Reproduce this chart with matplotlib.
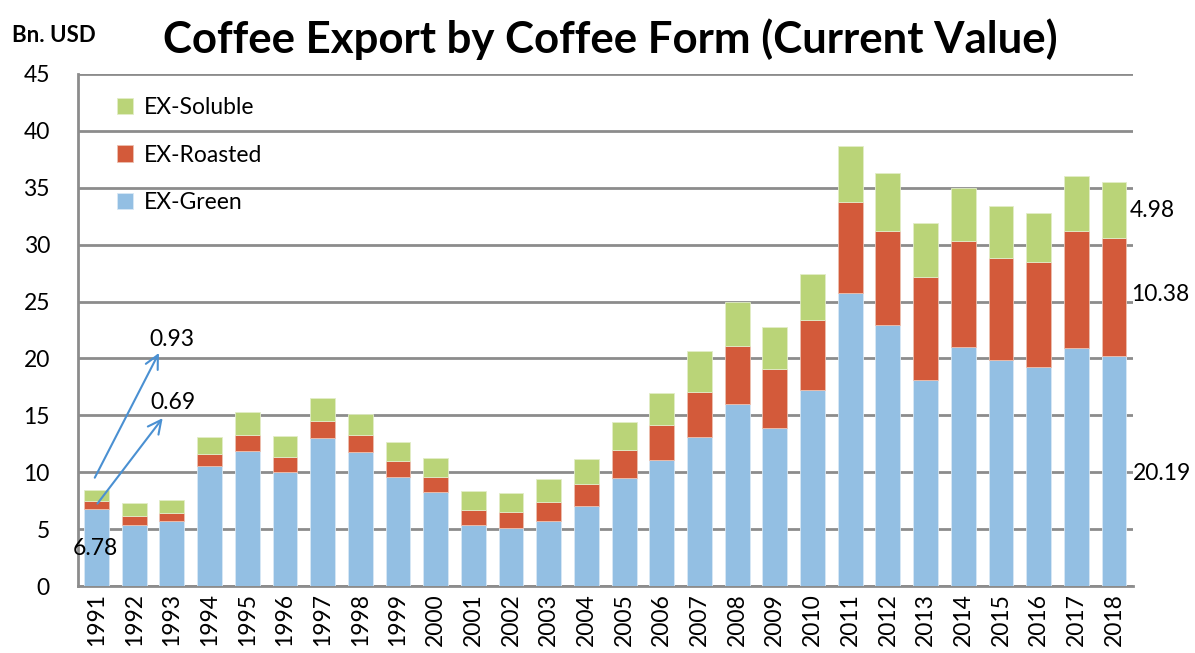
import matplotlib
matplotlib.use("Agg")
import matplotlib.pyplot as plt
import numpy as np

years = [str(y) for y in range(1991, 2019)]
green = [6.78, 5.38, 5.75, 10.52, 11.89, 10.03, 13.01, 11.77, 9.55, 8.23,
         5.38, 5.08, 5.67, 6.99, 9.46, 11.10, 13.07, 15.98, 13.87, 17.22,
         25.71, 22.95, 18.10, 20.98, 19.89, 19.25, 20.95, 20.19]
roasted = [0.69, 0.79, 0.70, 1.06, 1.37, 1.28, 1.49, 1.49, 1.48, 1.32,
           1.26, 1.38, 1.70, 2.00, 2.47, 3.09, 3.97, 5.11, 5.20, 6.17,
           8.08, 8.23, 9.02, 9.32, 8.97, 9.22, 10.23, 10.38]
soluble = [0.93, 1.10, 1.15, 1.52, 2.00, 1.83, 1.98, 1.82, 1.59, 1.70,
           1.73, 1.74, 2.00, 2.17, 2.52, 2.73, 3.58, 3.85, 3.73, 4.00,
           4.91, 5.08, 4.82, 4.64, 4.55, 4.32, 4.82, 4.98]

plt.rcParams['font.family'] = ['Lato', 'DejaVu Sans']

fig = plt.figure(figsize=(11.95, 6.53), dpi=100)
ax = fig.add_axes([0.065, 0.1026, 0.883, 0.7841])

x = np.arange(len(years))
g = np.array(green)
r = np.array(roasted)
s = np.array(soluble)
w = 0.66
b1 = ax.bar(x, g, w, color='#93BFE3', edgecolor='#d8e8f5', linewidth=0.6, label='EX-Green', zorder=3)
b2 = ax.bar(x, r, w, bottom=g, color='#D35A3A', edgecolor='#ecc0b0', linewidth=0.6, label='EX-Roasted', zorder=3)
b3 = ax.bar(x, s, w, bottom=g + r, color='#BAD478', edgecolor='#e2edc8', linewidth=0.6, label='EX-Soluble', zorder=3)

ax.set_xlim(-0.5, len(years) - 0.5)
ax.set_ylim(0, 45)
ax.set_yticks(range(0, 46, 5))
ax.set_xticks(x)
ax.set_xticklabels(years, rotation=90)
ax.tick_params(axis='y', length=0, pad=20, labelsize=16.5)
ax.tick_params(axis='x', length=0, pad=5, labelsize=16.5)
ax.yaxis.grid(True, color='#8c8c8c', linewidth=2)
ax.set_axisbelow(True)
for sp in ['top', 'right']:
    ax.spines[sp].set_visible(False)
for sp in ['left', 'bottom']:
    ax.spines[sp].set_color('#8c8c8c')
    ax.spines[sp].set_linewidth(2)

leg = ax.legend(handles=[b3, b2, b1], loc='upper left', bbox_to_anchor=(0.018, 0.995),
                frameon=False, fontsize=16.5, handlelength=0.7, handleheight=0.7,
                handletextpad=0.45, labelspacing=1.15)

# annotations on 1991
arrow = dict(arrowstyle='->', color='#4A90D2', lw=1.5, mutation_scale=24)
ax.annotate('', xy=(1.69, 20.7), xytext=(-0.08, 9.3), arrowprops=arrow)
ax.annotate('', xy=(1.80, 14.95), xytext=(-0.02, 7.05), arrowprops=arrow)
ax.text(2.0, 21.7, '0.93', ha='center', va='center', fontsize=16.5)
ax.text(2.02, 16.1, '0.69', ha='center', va='center', fontsize=16.5)
ax.text(-0.02, 3.3, '6.78', ha='center', va='center', fontsize=16.5)

# labels for 2018
ax.text(27.42, 33.0, '4.98', ha='left', va='center', fontsize=16.5, clip_on=False)
ax.text(27.45, 25.65, '10.38', ha='left', va='center', fontsize=16.5, clip_on=False)
ax.text(27.5, 9.93, '20.19', ha='left', va='center', fontsize=16.5, clip_on=False)

fig.text(0.01, 0.945, 'Bn. USD', fontsize=16, fontweight='bold', ha='left', va='center')
fig.text(0.511, 0.94, 'Coffee Export by Coffee Form (Current Value)', fontsize=31.5,
         fontweight='bold', ha='center', va='center')

fig.savefig('out.png', dpi=100)
